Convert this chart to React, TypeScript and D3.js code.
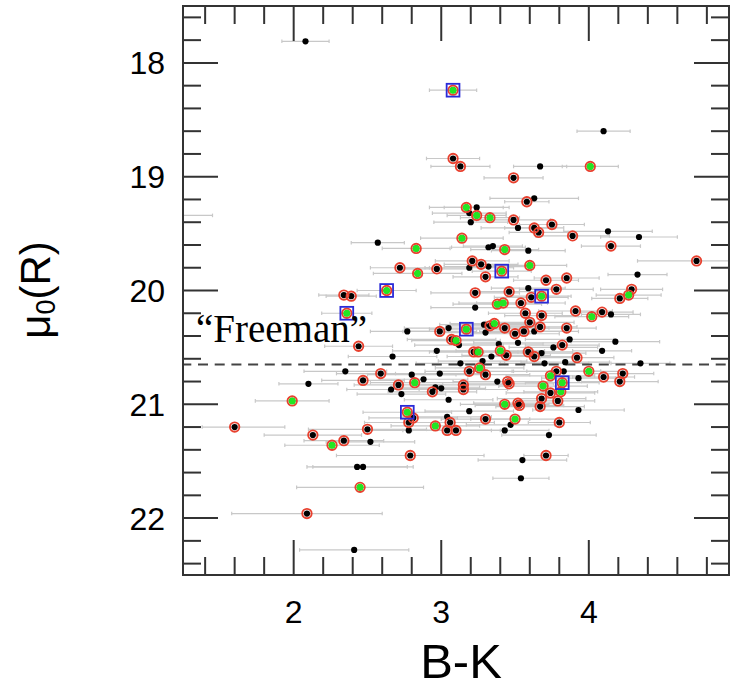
import React from 'react';
import * as d3 from 'd3';

const W = 731;
const H = 689;
const PLOT = { left: 183, right: 729, top: 6, bottom: 575 };

const xDomain: [number, number] = [1.25, 4.95];
const yDomain: [number, number] = [17.5, 22.5];
const xMajorTicks = [2, 3, 4];
const yMajorTicks = [18, 19, 20, 21, 22];
const freemanMu = 20.65;

// [B-K, mu0(R), err minus, err plus?]
type P = [number, number, number, number?];

const blackOnly: P[] = [
  [2.08, 17.81, 0.16], [1.12, 19.34, 0.33], [4.10, 18.60, 0.18], [3.67, 18.91, 0.18],
  [3.63, 19.19, 0.30], [3.24, 19.27, 0.22], [3.19, 19.32, 0.25], [3.20, 19.40, 0.25],
  [3.52, 19.45, 0.25], [4.13, 19.48, 0.30], [4.34, 19.53, 0.26], [2.57, 19.58, 0.18],
  [3.32, 19.62, 0.25], [3.35, 19.61, 0.20], [3.59, 19.65, 0.25], [3.19, 19.80, 0.30],
  [3.32, 19.79, 0.30], [4.33, 19.86, 0.20], [3.59, 19.98, 0.25], [4.15, 20.21, 0.20],
  [3.23, 20.15, 0.30], [3.63, 20.36, 0.30], [2.77, 20.36, 0.25], [3.05, 20.33, 0.30],
  [3.30, 20.37, 0.30], [3.29, 20.30, 0.30], [3.12, 20.48, 0.30], [2.97, 20.53, 0.30],
  [3.39, 20.47, 0.30], [3.52, 20.46, 0.30], [3.68, 20.55, 0.30], [3.87, 20.43, 0.30],
  [3.76, 20.50, 0.30], [2.67, 20.58, 0.30], [3.13, 20.64, 0.30], [3.28, 20.62, 0.30],
  [3.70, 20.64, 0.30], [3.84, 20.63, 0.30], [4.09, 20.53, 0.20], [3.34, 20.58, 0.30],
  [4.18, 20.45, 0.30], [4.35, 20.64, 0.20], [2.80, 20.74, 0.30], [2.99, 20.73, 0.30],
  [3.83, 20.71, 0.25], [2.88, 20.78, 0.30], [2.66, 20.87, 0.30], [2.73, 20.91, 0.30],
  [3.00, 20.86, 0.30], [2.96, 20.85, 0.30], [3.38, 20.80, 0.30], [3.93, 20.77, 0.25],
  [3.93, 21.05, 0.31], [3.05, 20.96, 0.30], [3.19, 21.06, 0.30], [3.04, 21.11, 0.30],
  [2.78, 21.23, 0.30], [3.47, 21.18, 0.30], [3.43, 21.23, 0.30], [3.73, 21.27, 0.32],
  [3.55, 21.49, 0.30], [3.54, 21.65, 0.19], [2.52, 21.33, 0.30], [2.35, 20.71, 0.28],
  [2.10, 20.82, 0.20], [2.43, 21.55, 0.34], [2.47, 21.55, 0.34], [2.41, 22.28, 0.37],
];

const redCircled: P[] = [
  [3.08, 18.84, 0.18], [3.13, 18.91, 0.20], [3.49, 19.01, 0.20], [3.58, 19.22, 0.15],
  [3.49, 19.38, 0.25], [3.63, 19.45, 0.20], [3.66, 19.49, 0.20], [3.75, 19.42, 0.22],
  [3.89, 19.52, 0.25], [4.15, 19.61, 0.20], [4.73, 19.74, 0.40], [3.21, 19.74, 0.25],
  [3.27, 19.77, 0.25], [2.72, 19.80, 0.20], [2.97, 19.81, 0.22], [3.30, 19.88, 0.22],
  [3.71, 19.91, 0.22], [3.85, 19.89, 0.22], [3.23, 20.02, 0.30], [3.46, 20.01, 0.25],
  [3.78, 19.99, 0.25], [3.61, 20.06, 0.25], [4.29, 19.99, 0.21], [4.21, 20.07, 0.19],
  [3.54, 20.11, 0.30], [3.91, 20.18, 0.25], [4.09, 20.19, 0.21], [3.57, 20.20, 0.25],
  [3.68, 20.22, 0.25], [3.60, 20.28, 0.30], [3.67, 20.32, 0.25], [3.33, 20.31, 0.30],
  [3.43, 20.33, 0.30], [3.50, 20.38, 0.30], [3.56, 20.36, 0.30], [3.85, 20.33, 0.20],
  [2.99, 20.36, 0.25], [3.07, 20.43, 0.30], [3.22, 20.54, 0.30], [3.59, 20.54, 0.30],
  [3.63, 20.58, 0.30], [3.82, 20.48, 0.25], [3.92, 20.59, 0.25], [3.44, 20.57, 0.30],
  [3.19, 20.71, 0.30], [3.30, 20.74, 0.30], [2.59, 20.73, 0.30], [3.78, 20.71, 0.30],
  [2.71, 20.83, 0.30], [2.94, 20.89, 0.30], [3.15, 20.83, 0.30], [3.15, 20.87, 0.30],
  [3.45, 20.80, 0.30], [3.46, 20.82, 0.30], [3.74, 20.90, 0.30], [3.68, 20.95, 0.30],
  [3.79, 20.97, 0.25], [3.52, 20.99, 0.30], [3.53, 21.01, 0.30], [3.67, 21.02, 0.30],
  [2.81, 21.12, 0.30], [2.78, 21.16, 0.30], [3.30, 21.13, 0.30], [3.06, 21.16, 0.30],
  [3.04, 21.23, 0.30], [3.10, 21.23, 0.30], [3.80, 21.16, 0.21], [2.79, 21.45, 0.50],
  [3.71, 21.45, 0.15], [2.50, 21.22, 0.40], [2.44, 20.49, 0.23], [2.47, 20.79, 0.28],
  [1.60, 21.20, 0.22, 0.34], [2.13, 21.27, 0.33], [2.34, 21.32, 0.27], [2.09, 21.96, 0.51],
  [2.34, 20.04, 0.17], [2.39, 20.05, 0.17], [4.10, 20.76, 0.21], [4.23, 20.73, 0.21],
  [4.21, 20.80, 0.26],
];

const greenFilled: P[] = [
  [4.01, 18.91, 0.19], [3.17, 19.27, 0.25], [3.24, 19.34, 0.20], [3.33, 19.36, 0.20],
  [3.14, 19.54, 0.28], [2.83, 19.63, 0.23], [3.43, 19.64, 0.23], [3.60, 19.78, 0.25],
  [2.84, 19.85, 0.30], [4.27, 20.04, 0.22], [3.38, 20.12, 0.30], [3.42, 20.11, 0.30],
  [4.02, 20.23, 0.25], [3.36, 20.29, 0.30], [3.10, 20.44, 0.30], [3.25, 20.54, 0.30],
  [3.40, 20.53, 0.30], [3.26, 20.68, 0.30], [3.74, 20.75, 0.30], [2.82, 20.81, 0.30],
  [3.69, 20.84, 0.30], [3.81, 20.89, 0.25], [3.43, 21.00, 0.30], [3.50, 21.13, 0.30],
  [2.96, 21.19, 0.30], [1.99, 20.97, 0.25], [2.26, 21.36, 0.32], [2.45, 21.73, 0.43],
  [4.00, 20.71, 0.25],
];

const blueSquared: P[] = [
  [3.08, 18.24, 0.16], [3.41, 19.83, 0.20], [2.63, 20.00, 0.20], [3.68, 20.05, 0.20],
  [3.17, 20.34, 0.25], [3.82, 20.81, 0.25], [2.77, 21.07, 0.30], [2.36, 20.20, 0.17],
];

const AXIS = '#333333';
const SANS = '"Liberation Sans", Arial, Helvetica, sans-serif';

export default function App() {
  const x = d3.scaleLinear().domain(xDomain).range([PLOT.left, PLOT.right]);
  const y = d3.scaleLinear().domain(yDomain).range([PLOT.top, PLOT.bottom]);

  const xMinor = d3.range(7, 25).map((i) => i / 5).filter((v) => !xMajorTicks.some((m) => Math.abs(m - v) < 1e-6));
  const yMinor = d3.range(88, 113).map((i) => i / 5).filter((v) => !yMajorTicks.some((m) => Math.abs(m - v) < 1e-6));

  const MAJ = 35;
  const MIN = 18;

  const all: P[] = [...blackOnly, ...redCircled, ...greenFilled, ...blueSquared];
  const ringed: P[] = [...redCircled, ...greenFilled, ...blueSquared];
  const greens: P[] = [...greenFilled, ...blueSquared];

  const errColor = '#c8c8c8';

  return (
    <svg width={W} height={H} style={{ position: 'absolute', left: 0, top: 0, background: '#fff' }}>
      <defs>
        <clipPath id="plotclip">
          <rect x={PLOT.left} y={PLOT.top} width={PLOT.right - PLOT.left} height={PLOT.bottom - PLOT.top} />
        </clipPath>
      </defs>

      <g clipPath="url(#plotclip)">
        {all.map((p, i) => {
          const lo = p[2];
          const hi = p[3] ?? p[2];
          const x0 = x(p[0] - lo);
          const x1 = x(p[0] + hi);
          const yy = y(p[1]);
          return (
            <g key={'e' + i} stroke={errColor} strokeWidth={1.2}>
              <line x1={x0} x2={x1} y1={yy} y2={yy} />
              <line x1={x0} x2={x0} y1={yy - 1.8} y2={yy + 1.8} />
              <line x1={x1} x2={x1} y1={yy - 1.8} y2={yy + 1.8} />
            </g>
          );
        })}

        <line
          x1={PLOT.left}
          x2={PLOT.right}
          y1={y(freemanMu)}
          y2={y(freemanMu)}
          stroke="#444"
          strokeWidth={2}
          strokeDasharray="10 6.7"
          strokeDashoffset={1.7}
        />

        {all.map((p, i) => (
          <circle key={'b' + i} cx={x(p[0])} cy={y(p[1])} r={3.1} fill="#000" />
        ))}
        {ringed.map((p, i) => (
          <circle key={'r' + i} cx={x(p[0])} cy={y(p[1])} r={4.7} fill="none" stroke="#e8402e" strokeWidth={1.9} />
        ))}
        {greens.map((p, i) => (
          <circle key={'g' + i} cx={x(p[0])} cy={y(p[1])} r={3.5} fill="#22e622" />
        ))}
        {blueSquared.map((p, i) => (
          <rect
            key={'s' + i}
            x={x(p[0]) - 6.4}
            y={y(p[1]) - 6.4}
            width={12.8}
            height={12.8}
            fill="none"
            stroke="#2a2ad8"
            strokeWidth={1.8}
          />
        ))}
      </g>

      <text x={196} y={341.7} fontFamily='"Liberation Serif", "Times New Roman", serif' fontSize={39} fill="#000">
        “Freeman”
      </text>

      <g stroke={AXIS} strokeWidth={2}>
        {xMajorTicks.map((v) => (
          <g key={'xm' + v}>
            <line x1={x(v)} x2={x(v)} y1={PLOT.bottom} y2={PLOT.bottom - MAJ} />
            <line x1={x(v)} x2={x(v)} y1={PLOT.top} y2={PLOT.top + MAJ} />
          </g>
        ))}
        {xMinor.map((v) => (
          <g key={'xn' + v}>
            <line x1={x(v)} x2={x(v)} y1={PLOT.bottom} y2={PLOT.bottom - MIN} />
            <line x1={x(v)} x2={x(v)} y1={PLOT.top} y2={PLOT.top + MIN} />
          </g>
        ))}
        {yMajorTicks.map((v) => (
          <g key={'ym' + v}>
            <line x1={PLOT.left} x2={PLOT.left + MAJ} y1={y(v)} y2={y(v)} />
            <line x1={PLOT.right} x2={PLOT.right - MAJ} y1={y(v)} y2={y(v)} />
          </g>
        ))}
        {yMinor.map((v) => (
          <g key={'yn' + v}>
            <line x1={PLOT.left} x2={PLOT.left + MIN} y1={y(v)} y2={y(v)} />
            <line x1={PLOT.right} x2={PLOT.right - MIN} y1={y(v)} y2={y(v)} />
          </g>
        ))}
      </g>

      <rect
        x={PLOT.left}
        y={PLOT.top}
        width={PLOT.right - PLOT.left}
        height={PLOT.bottom - PLOT.top}
        fill="none"
        stroke={AXIS}
        strokeWidth={2}
      />

      {yMajorTicks.map((v) => (
        <text key={'yl' + v} x={165} y={y(v) + 11.5} textAnchor="end" fontFamily={SANS} fontSize={32} fill="#000">
          {v}
        </text>
      ))}
      {xMajorTicks.map((v) => (
        <text key={'xl' + v} x={x(v)} y={623} textAnchor="middle" fontFamily={SANS} fontSize={32} fill="#000">
          {v}
        </text>
      ))}

      <text x={461} y={678} textAnchor="middle" fontFamily={SANS} fontSize={49} fill="#000">
        B-K
      </text>
      <text transform="translate(50,290) rotate(-90)" textAnchor="middle" fontFamily={SANS} fontSize={42} fill="#000">
        μ<tspan fontSize={27} dy={5}>0</tspan>
        <tspan dy={-5}>(R)</tspan>
      </text>
    </svg>
  );
}
